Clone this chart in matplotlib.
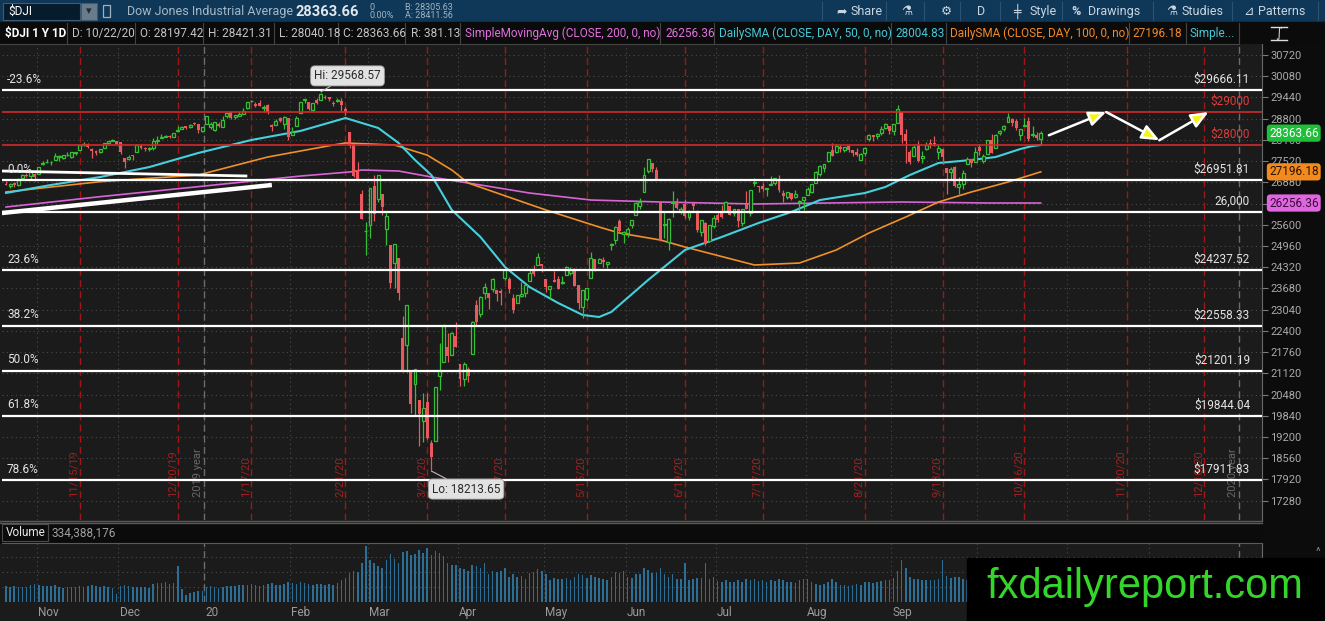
import numpy as np
import matplotlib
matplotlib.use('Agg')
import matplotlib.pyplot as plt
from matplotlib.patches import Rectangle, FancyArrowPatch

plt.rcParams['font.family'] = ['Roboto', 'DejaVu Sans']

# ---------------- data ----------------
# daily candles, 10/22/19 .. 10/22/20, one row per month
opens = [
    26827, 26760, 26860, 26790, 27000, 27090, 27080, 27130,
    27130, 27440, 27480, 27480, 27560, 27630, 27610, 27690, 27640, 27760, 27850, 28000, 28050, 27900, 27830, 27800, 27930, 28080, 28140, 28120,
    28110, 27620, 27570, 27700, 27810, 27990, 27890, 27880, 27920, 28130, 28230, 28260, 28290, 28260, 28440, 28500, 28570, 28540, 28670, 28650, 28420,
    28640, 28560, 28470, 28640, 28560, 28870, 29000, 28860, 28890, 28950, 29110, 29320, 29250, 29270, 29130, 29200, 28600, 28600, 28820, 28640, 28810,
    28320, 28570, 28980, 29350, 29290, 29060, 29350, 29360, 29450, 29440, 29280, 29330, 29330, 29100, 28400, 28030, 27240, 26530, 25400,
    25590, 26760, 26380, 26520, 25460, 24990, 24450, 24600, 22180, 21970, 21230, 20800, 20330, 19690, 20250, 19030, 19080, 21050, 21470, 21900, 21680, 22250,
    21400, 20950, 21250, 21700, 23170, 22900, 23550, 23550, 23650, 23640, 23590, 24000, 23950, 23400, 23250, 23460, 23550, 23910, 24210, 24380, 24430,
    23980, 23660, 23940, 23970, 23830, 24080, 24140, 24240, 23770, 23120, 23350, 24000, 24560, 24450, 24530, 24410, 24990, 25130, 25700, 25330,
    25340, 25580, 25880, 26170, 26600, 27230, 27450, 27250, 26280, 25600, 25080, 26270, 26310, 26010, 26240, 25840, 26260, 26020, 25380, 25650, 25120, 25550,
    25880, 25960, 26030, 26170, 25960, 26070, 25660, 26240, 25960, 26870, 26760, 26780, 26670, 26810, 26850, 26970, 26560, 26450, 26560, 26430, 26300, 26350,
    26510, 26600, 26870, 27140, 27320, 27530, 27860, 27780, 27940, 27850, 27990, 27850, 27790, 27550, 27770, 28200, 28310, 28290, 28380, 28510, 28570,
    28440, 28680, 29000, 28330, 27780, 27660, 28000, 27600, 27900, 28070, 28050, 27780, 27890, 27310, 27190, 27330, 26730, 26830, 27420, 27580, 27500,
    27940, 27530, 27740, 28150, 27930, 28360, 28480, 28690, 28800, 28720, 28310, 28580, 28740, 28300, 28300, 28197,
]
highs = [
    26910, 26850, 26880, 27000, 27130, 27170, 27200, 27150,
    27350, 27515, 27570, 27520, 27775, 27690, 27700, 27790, 27800, 27800, 28010, 28090, 28070, 27930, 27870, 27890, 28070, 28130, 28175, 28120,
    28110, 27620, 27690, 27710, 28030, 28050, 27950, 27950, 28220, 28290, 28340, 28320, 28320, 28380, 28580, 28590, 28580, 28630, 28710, 28650, 28550,
    28870, 28710, 28710, 28690, 28870, 28960, 29010, 28910, 29010, 29130, 29300, 29375, 29300, 29370, 29200, 29230, 28650, 28790, 28860, 28880, 28820,
    28560, 28870, 29300, 29380, 29290, 29280, 29410, 29569, 29510, 29460, 29320, 29410, 29410, 29150, 28400, 28050, 27480, 26650, 25680,
    26710, 27100, 27100, 26520, 25990, 24990, 25020, 24600, 22840, 23190, 21230, 21240, 20330, 20540, 20530, 19120, 20720, 22020, 22600, 22330, 22380, 22680,
    21400, 21450, 21300, 22690, 23330, 23450, 23840, 23550, 23990, 23640, 23670, 24270, 24020, 23500, 23480, 23880, 23790, 24250, 24390, 24760, 24430,
    23980, 23750, 24200, 24050, 24060, 24360, 24330, 24300, 23790, 23630, 23690, 24770, 24570, 24610, 24630, 24480, 25050, 25550, 25760, 25420,
    25540, 25740, 26290, 26400, 27340, 27580, 27450, 27350, 26280, 26000, 25810, 26610, 26400, 26150, 26380, 26050, 26280, 26040, 25750, 25670, 25600, 25910,
    25990, 26200, 26330, 26170, 26090, 26080, 26090, 26630, 26650, 27000, 26770, 26850, 26710, 27060, 27020, 27090, 26650, 26590, 26570, 26650, 26350, 26440,
    26740, 26830, 27230, 27390, 27440, 27810, 28060, 28030, 28000, 27930, 28000, 27870, 27920, 27770, 27960, 28330, 28320, 28370, 28580, 28660, 28590,
    28650, 29200, 29000, 28490, 27850, 28010, 28140, 27820, 28100, 28200, 28290, 28020, 27900, 27310, 27330, 27380, 27030, 27250, 27640, 27580, 27950,
    28040, 27740, 28160, 28350, 28330, 28450, 28600, 28960, 28820, 28800, 28500, 28830, 28860, 28570, 28390, 28421,
]
lows = [
    26787, 26720, 26740, 26770, 26990, 27040, 26990, 26920,
    27120, 27410, 27450, 27390, 27550, 27530, 27580, 27660, 27620, 27700, 27850, 27970, 27910, 27620, 27700, 27760, 27930, 28030, 28120, 28030,
    27730, 27325, 27550, 27560, 27810, 27900, 27820, 27830, 27860, 28030, 28220, 28240, 28230, 28250, 28410, 28500, 28500, 28530, 28620, 28380, 28400,
    28630, 28500, 28420, 28560, 28560, 28830, 28800, 28780, 28880, 28940, 29100, 29300, 29150, 29180, 28990, 28930, 28440, 28600, 28700, 28500, 28170,
    28320, 28570, 28980, 29260, 29060, 29040, 29230, 29360, 29380, 29320, 29180, 29300, 29030, 28920, 27920, 27040, 26950, 25760, 24680,
    25200, 25710, 26290, 25900, 24990, 23700, 23690, 23330, 21150, 21150, 19930, 19830, 18920, 19050, 19140, 18214, 19080, 20620, 21470, 21450, 21680, 21900,
    20740, 20730, 20860, 21690, 22570, 22810, 23360, 23050, 23560, 23300, 23170, 23930, 23540, 22940, 23240, 23430, 23420, 23910, 24070, 24380, 24180,
    23580, 23360, 23860, 23650, 23810, 24080, 24100, 23760, 23050, 22790, 23300, 24000, 24200, 24440, 24340, 24290, 24850, 25030, 25350, 25060,
    25240, 25510, 25880, 26070, 26600, 27150, 27180, 26980, 25120, 25200, 24840, 25820, 26090, 25920, 25810, 25740, 26050, 25370, 25270, 24990, 25080, 25490,
    25680, 25790, 26030, 25880, 25850, 25540, 25570, 26070, 25870, 26760, 26600, 26610, 26470, 26810, 26790, 26600, 26280, 26380, 26360, 26400, 26010, 26050,
    26500, 26550, 26870, 27080, 27190, 27500, 27660, 27760, 27810, 27790, 27780, 27660, 27670, 27550, 27680, 28140, 28130, 28190, 28320, 28490, 28330,
    28300, 28670, 28070, 27460, 27430, 27660, 27480, 27450, 27860, 27920, 27990, 27590, 27430, 26540, 26960, 26740, 26540, 26670, 27420, 27340, 27500,
    27690, 27450, 27740, 27750, 27930, 28320, 28430, 28690, 28580, 28460, 28170, 28570, 28130, 28250, 28170, 28040,
]
closes = [
    26788, 26834, 26806, 26958, 27091, 27071, 27186, 27046,
    27347, 27462, 27492, 27492, 27675, 27681, 27691, 27691, 27784, 27782, 28005, 28036, 27934, 27821, 27766, 27876, 28066, 28121, 28164, 28051,
    27783, 27503, 27650, 27678, 28015, 27909, 27881, 27911, 28132, 28135, 28235, 28268, 28240, 28377, 28455, 28551, 28516, 28621, 28645, 28462, 28538,
    28868, 28634, 28703, 28584, 28745, 28957, 28824, 28908, 28940, 29030, 29298, 29348, 29196, 29186, 29160, 28990, 28535, 28723, 28734, 28859, 28256,
    28400, 28807, 29291, 29380, 29103, 29276, 29277, 29551, 29423, 29398, 29232, 29348, 29219, 28992, 27961, 27081, 26957, 25767, 25409,
    26703, 25917, 27091, 26122, 25865, 23851, 25018, 23553, 21200, 23186, 20189, 21237, 19899, 20087, 19174, 18592, 20704, 21200, 22552, 21637, 22327, 21917,
    20944, 21413, 21053, 22680, 22654, 23434, 23719, 23390, 23950, 23505, 23538, 24242, 23650, 23019, 23476, 23516, 23775, 24134, 24102, 24634, 24346,
    23724, 23750, 23883, 23664, 23876, 24331, 24222, 23764, 23248, 23625, 23685, 24597, 24207, 24576, 24474, 24465, 24995, 25548, 25401, 25383,
    25475, 25742, 26270, 26282, 27111, 27572, 27272, 26990, 25128, 25606, 25763, 26290, 26120, 26080, 25871, 26025, 26156, 25445, 25746, 25016, 25596, 25813,
    25735, 25827, 26287, 25891, 26067, 25706, 26075, 26086, 26643, 26870, 26735, 26672, 26681, 26841, 27006, 26653, 26470, 26585, 26379, 26540, 26314, 26428,
    26665, 26828, 27202, 27387, 27433, 27791, 27687, 27977, 27897, 27931, 27845, 27778, 27693, 27740, 27930, 28308, 28249, 28332, 28493, 28654, 28430,
    28646, 29100, 28293, 28133, 27501, 27940, 27535, 27666, 27993, 27996, 28032, 27902, 27657, 27148, 27288, 26763, 26815, 27174, 27584, 27452, 27782,
    27817, 27683, 28149, 27773, 28303, 28426, 28587, 28838, 28680, 28515, 28495, 28606, 28195, 28309, 28211, 28364,
]
volume_m = [
    270, 250, 260, 245, 250, 255, 280, 300,
    290, 265, 270, 260, 275, 250, 240, 255, 245, 250, 270, 255, 260, 280, 260, 255, 265, 250, 230, 130,
    270, 290, 265, 245, 245, 250, 255, 235, 300, 310, 310, 330, 300, 320, 600, 220, 110, 155, 165, 190, 180,
    245, 260, 250, 240, 255, 260, 270, 260, 275, 285, 290, 300, 290, 270, 275, 300, 310, 280, 285, 300, 340,
    320, 300, 330, 310, 300, 290, 300, 295, 280, 300, 290, 310, 360, 400, 480, 520, 500, 650, 930,
    700, 650, 600, 560, 700, 800, 720, 650, 830, 850, 780, 800, 860, 820, 890, 780, 840, 820, 760, 640, 610, 620,
    560, 540, 520, 620, 600, 560, 640, 470, 510, 500, 520, 560, 420, 470, 420, 430, 380, 480, 500, 540, 520,
    460, 370, 400, 390, 390, 400, 360, 410, 470, 450, 400, 450, 420, 400, 380, 360, 420, 500, 480, 520,
    420, 400, 460, 470, 560, 530, 490, 480, 560, 460, 420, 470, 380, 390, 650, 370, 380, 400, 400, 640, 380, 420,
    350, 330, 360, 340, 330, 360, 330, 390, 360, 380, 350, 360, 340, 360, 350, 380, 360, 330, 340, 310, 360, 390,
    380, 330, 300, 290, 300, 340, 380, 330, 290, 280, 270, 280, 300, 290, 330, 330, 320, 340, 350, 370, 360,
    400, 520, 690, 560, 420, 390, 380, 360, 370, 360, 360, 380, 700, 440, 400, 420, 410, 390, 360, 340, 400,
    370, 360, 330, 370, 340, 330, 310, 330, 350, 340, 370, 400, 340, 330, 330, 334,
]

# moving averages read at sample days (trading-day index)
sma50_day = [0, 11, 23, 35, 47, 60, 72, 83, 91, 96, 100, 104, 109, 116, 122, 128, 135, 141, 145, 148,
             157, 160, 166, 175, 184, 192, 199, 210, 215, 221, 228, 236, 242, 248, 251, 253]
sma50 = [26560, 26800, 27040, 27340, 27765, 28157, 28430, 28820, 28520, 28066, 27554, 27100, 26046, 25232,
         24327, 23724, 23241, 22880, 22819, 22970, 23935, 24236, 24840, 25232, 25654, 25985, 26347, 26558,
         26740, 27101, 27463, 27554, 27644, 27885, 27976, 28005]
sma100_day = [0, 23, 47, 64, 80, 83, 95, 103, 109, 113, 132, 145, 150, 160, 166, 183, 194, 203, 211, 220,
              228, 236, 245, 253]
sma100 = [26590, 26900, 27101, 27644, 28006, 28066, 28006, 27700, 27252, 26860, 26046, 25533, 25352, 25141,
          24930, 24387, 24447, 24840, 25352, 25835, 26287, 26588, 26890, 27196]
sma200_day = [0, 23, 47, 72, 84, 87, 96, 104, 116, 128, 143, 160, 183, 219, 240, 253]
sma200 = [26136, 26448, 26750, 27070, 27192, 27252, 27222, 27040, 26800, 26558, 26347, 26287, 26227, 26287,
          26257, 26256]

fib_labels = ['-23.6%', '0.0%', '23.6%', '38.2%', '50.0%', '61.8%', '78.6%']
fib_prices = [29666.11, 26951.81, 24237.52, 22558.33, 21201.19, 19844.04, 17911.83]
red_levels = [29000, 28000]
white_level = 26000

trend_a_day, trend_a = [-1, 59], [27222, 27071]
trend_b_day, trend_b = [-1, 65], [25955, 26800]
path_day = [255, 269, 282, 294]
path_price = [28300, 29000, 28150, 29000]

month_names = ['Nov', 'Dec', '20', 'Feb', 'Mar', 'Apr', 'May', 'Jun', 'Jul', 'Aug', 'Sep', 'Oct', 'Nov', 'Dec']
month_start = [8, 28, 49, 70, 89, 111, 132, 152, 174, 196, 217, 238, 260, 280]
exp_labels = ['11/15/19', '12/20/19', '1/17/20', '2/21/20', '3/20/20', '4/17/20', '5/15/20', '6/19/20',
              '7/17/20', '8/21/20', '9/18/20', '10/16/20', '11/20/20', '12/18/20']
exp_day = [18, 42, 60, 83, 103, 122, 142, 166, 185, 210, 229, 249, 274, 293]
year_labels = ['2019 year', '2020 year']
year_day = [48.5, 301.5]
price_ticks = list(range(17280, 30721, 640))
hidden_tick = 26240  # sits under the SMA200 badge

hi_day, hi_price = 77, 29568.57
lo_day, lo_price = 104, 18213.65
last_close, sma50_last, sma100_last, sma200_last = 28363.66, 28004.83, 27196.18, 26256.36

# ---------------- layout ----------------
W, H = 1325, 621
BG = '#1b1b1b'
GREEN = '#35bf35'
RED = '#e8585c'
fig = plt.figure(figsize=(W / 100, H / 100), dpi=100, facecolor=BG)


def box(x0, y0, x1, y1):
    return [x0 / W, 1 - y1 / H, (x1 - x0) / W, (y1 - y0) / H]


def rect(x0, y0, x1, y1, **kw):
    fig.patches.append(Rectangle((x0 / W, 1 - y1 / H), (x1 - x0) / W, (y1 - y0) / H,
                                 transform=fig.transFigure, **kw))


def ftext(x, y, s, **kw):
    fig.text(x / W, 1 - y / H, s, **kw)


XL = (-0.98, 307.1)
YL = (16697, 31052)

# right axis column and header strips
rect(1262, 22, W, H, color='#0c0c0c', zorder=-1)
rect(0, 0, W, 22, color='#0f3757', zorder=-1)
rect(0, 22, W, 44, color='#0b0b0b', zorder=-1)
rect(0, 523, 1262, 543, color='#0b0b0b', zorder=-1)

# ---------------- price panel ----------------
ax = fig.add_axes(box(2, 44, 1262, 520))
ax.set_facecolor(BG)
ax.set_xlim(*XL)
ax.set_ylim(*YL)
for s in ['top', 'left', 'bottom']:
    ax.spines[s].set_visible(False)
ax.spines['right'].set_color('#6a6a6a')
ax.yaxis.tick_right()
ax.set_yticks(price_ticks)
ax.set_yticklabels(['' if t == hidden_tick else str(t) for t in price_ticks])
ax.tick_params(axis='y', colors='#7a7a7a', labelcolor='#a9a9a9', labelsize=8, length=4, pad=2)
ax.set_xticks([])
ax.grid(True, axis='y', color='#4a4a4a', linestyle=(0, (1, 3)), lw=0.8)

grid_x = [m - 0.5 for m in month_start]
ax.vlines(grid_x, *YL, colors='#4a4a4a', linestyles=(0, (1, 3)), lw=0.8, zorder=1)
ax.vlines(exp_day, *YL, colors='#a01616', linestyles=(0, (5, 3)), lw=1.0, zorder=1.5)
ax.vlines(year_day, *YL, colors='#6c6c6c', linestyles=(0, (5, 3)), lw=1.0, zorder=1.5)
for d, lbl in zip(exp_day, exp_labels):
    ax.text(d - 1.4, 17380, lbl, rotation=90, color='#a02020', fontsize=8, ha='center', va='bottom', zorder=1.6)
for d, lbl in zip(year_day, year_labels):
    ax.text(d - 1.6, 17380, lbl, rotation=90, color='#686868', fontsize=8, ha='center', va='bottom', zorder=1.6)

# moving averages
ax.plot(sma200_day, sma200, color='#d865d8', lw=1.2, zorder=2)
ax.plot(sma100_day, sma100, color='#f0902a', lw=1.2, zorder=2)
ax.plot(sma50_day, sma50, color='#45d0dc', lw=1.5, zorder=2)

# candles
o, h, l, c = (np.array(v, dtype=float) for v in (opens, highs, lows, closes))
n = min(len(o), len(h), len(l), len(c))
o, h, l, c = o[:n], h[:n], l[:n], c[:n]
x = np.arange(n)
up = c >= o
ax.vlines(x[up], l[up], h[up], color=GREEN, lw=0.9, zorder=3)
ax.vlines(x[~up], l[~up], h[~up], color=RED, lw=0.9, zorder=3)
body_lo = np.minimum(o, c)
body_h = np.maximum(np.abs(c - o), 25)
ax.bar(x[up], body_h[up], bottom=body_lo[up], width=0.72, facecolor=BG, edgecolor=GREEN, lw=0.9, zorder=4)
ax.bar(x[~up], body_h[~up], bottom=body_lo[~up], width=0.72, color=RED, lw=0, zorder=4)

# drawings: fib levels, price levels, trend lines
for lbl, p in zip(fib_labels, fib_prices):
    ax.axhline(p, color='white', lw=1.6, zorder=6)
    ax.annotate(lbl, xy=(5 / 1260, p), xycoords=('axes fraction', 'data'), xytext=(0, 3),
                textcoords='offset points', ha='left', va='bottom', color='#e4e4e4', fontsize=8.5, zorder=7)
    ax.annotate('$%.2f' % p, xy=(1248 / 1260, p), xycoords=('axes fraction', 'data'), xytext=(0, 3),
                textcoords='offset points', ha='right', va='bottom', color='#e4e4e4', fontsize=8.5, zorder=7)
ax.axhline(white_level, color='white', lw=1.6, zorder=6)
ax.annotate('26,000', xy=(1248 / 1260, white_level), xycoords=('axes fraction', 'data'), xytext=(0, 3),
            textcoords='offset points', ha='right', va='bottom', color='#e4e4e4', fontsize=8.5, zorder=7)
for p in red_levels:
    ax.axhline(p, color='#d42a2a', lw=1.2, zorder=6)
    ax.annotate('$%d' % p, xy=(1248 / 1260, p), xycoords=('axes fraction', 'data'), xytext=(0, 3),
                textcoords='offset points', ha='right', va='bottom', color='#e03a3a', fontsize=8.5, zorder=7)
ax.plot(trend_a_day, trend_a, color='white', lw=2.0, solid_capstyle='butt', zorder=6)
ax.plot(trend_b_day, trend_b, color='white', lw=3.2, solid_capstyle='butt', zorder=6)
for i in range(len(path_day) - 1):
    ax.add_patch(FancyArrowPatch((path_day[i], path_price[i]), (path_day[i + 1], path_price[i + 1]),
                                 arrowstyle='-|>,head_length=0.75,head_width=0.32', mutation_scale=14,
                                 ec='white', fc='#f4f41c', lw=1.8, shrinkA=0, shrinkB=0, zorder=7))

# hi / lo bubbles
bub = dict(boxstyle='round,pad=0.3,rounding_size=0.35', fc='#e2e2e2', ec='#a0a0a0', lw=0.6)
ax.annotate('Hi: %.2f' % hi_price, xy=(hi_day, hi_price + 40), xytext=(83.5, 30090), ha='center', va='center',
            fontsize=8.5, color='#2a2a2a', bbox=bub, zorder=8,
            arrowprops=dict(arrowstyle='-', color='#bdbdbd', lw=0.8, shrinkA=0, shrinkB=0))
ax.annotate('Lo: %.2f' % lo_price, xy=(lo_day, lo_price - 40), xytext=(112.5, 17630), ha='center', va='center',
            fontsize=8.5, color='#2a2a2a', bbox=bub, zorder=8,
            arrowprops=dict(arrowstyle='-', color='#bdbdbd', lw=0.8, shrinkA=0, shrinkB=0))

# price badges on the right axis
for val, fc, tc in [(last_close, '#1fbf3a', 'white'), (sma100_last, '#f28a1e', '#2a1200'),
                    (sma200_last, '#e066e0', '#3a0a3a')]:
    ax.annotate('%.2f' % val, xy=(1.0, val), xycoords=('axes fraction', 'data'), xytext=(5, 0),
                textcoords='offset points', ha='left', va='center', fontsize=8.5, color=tc,
                bbox=dict(boxstyle='round,pad=0.18,rounding_size=0.3', fc=fc, ec='none'),
                annotation_clip=False, zorder=9)

# ---------------- volume panel ----------------
vax = fig.add_axes(box(2, 543, 1262, 602))
vax.set_facecolor(BG)
vax.set_xlim(*XL)
vax.set_ylim(0, 980)
vax.set_xticks([])
vax.set_yticks([])
for s in ['left', 'bottom']:
    vax.spines[s].set_visible(False)
vax.spines['top'].set_color('#5a5a5a')
vax.spines['right'].set_color('#6a6a6a')
vol = np.array(volume_m[:n], dtype=float)
vax.hlines([250, 500, 750], *XL, colors='#4a4a4a', linestyles=(0, (1, 3)), lw=0.8, zorder=1)
vax.vlines(grid_x, 0, 980, colors='#4a4a4a', linestyles=(0, (1, 3)), lw=0.8, zorder=1)
vax.vlines(year_day, 0, 980, colors='#6c6c6c', linestyles=(0, (5, 3)), lw=1.0, zorder=1)
vax.bar(np.arange(len(vol)), vol, width=0.38, color='#2c6f96', lw=0, zorder=2)
for m, name in zip(month_start, month_names):
    vax.text(m - 0.2, -0.17, name, transform=vax.get_xaxis_transform(), ha='left', va='center',
             color='#9c9c9c', fontsize=8.5)

# panel separators
fig.add_artist(plt.Line2D([0, 1262 / W], [1 - 520.5 / H] * 2, color='#5a5a5a', lw=1))
fig.add_artist(plt.Line2D([0, 1262 / W], [1 - 523 / H] * 2, color='#5a5a5a', lw=1))
rect(2, 524, 48, 541, fc='none', ec='#4a4a4a', lw=0.8)
ftext(6, 533, 'Volume', color='#e6e6e6', fontsize=8.5, va='center')
ftext(52, 533, '334,388,176', color='#a0a0a0', fontsize=8.5, va='center')
fig.add_artist(plt.Line2D([48 / W] * 2, [1 - 524 / H, 1 - 541 / H], color='#4a4a4a', lw=0.8))

# ---------------- header row 2 (study legend) ----------------
legend_items = [
    ('$DJI 1 Y 1D', '#ffffff', 5, 'bold'),
    ('D: 10/22/20', '#c4c4c4', 72, 'normal'),
    ('O: 28197.42', '#c4c4c4', 140, 'normal'),
    ('H: 28421.31', '#c4c4c4', 208, 'normal'),
    ('L: 28040.18', '#c4c4c4', 279, 'normal'),
    ('C: 28363.66', '#c4c4c4', 343, 'normal'),
    ('R: 381.13', '#c4c4c4', 411, 'normal'),
    ('SimpleMovingAvg (CLOSE, 200, 0, no)', '#e070e0', 465, 'normal'),
    ('26256.36', '#e070e0', 665, 'normal'),
    ('DailySMA (CLOSE, DAY, 50, 0, no)', '#45c8d8', 719, 'normal'),
    ('28004.83', '#45c8d8', 895, 'normal'),
    ('DailySMA (CLOSE, DAY, 100, 0, no)', '#f08a2a', 950, 'normal'),
    ('27196.18', '#f08a2a', 1132, 'normal'),
    ('Simple...', '#45c8d8', 1189, 'normal'),
]
for txt, col, xp, wt in legend_items:
    ftext(xp, 33.5, txt, color=col, fontsize=8.5, fontweight=wt, va='center')
for sx in [67, 135, 203, 274, 338, 405, 460, 660, 714, 891, 946, 1129, 1186, 1239]:
    fig.add_artist(plt.Line2D([sx / W] * 2, [1 - 23 / H, 1 - 43 / H], color='#444444', lw=0.8))
fig.add_artist(plt.Line2D([0, 1239 / W], [1 - 43.5 / H] * 2, color='#444444', lw=0.8))
fig.add_artist(plt.Line2D([1271 / W, 1287 / W], [1 - 27 / H] * 2, color='#dddddd', lw=1))
fig.add_artist(plt.Line2D([1271 / W, 1287 / W], [1 - 40 / H] * 2, color='#dddddd', lw=1))
ftext(1279, 33.5, '∫', color='#dddddd', fontsize=9, ha='center', va='center', family='DejaVu Sans')

# ---------------- toolbar ----------------
rect(3, 3, 80, 20, fc='#061b2b', ec='#3d5b73', lw=0.8)
ftext(8, 11.5, '$DJI', color='white', fontsize=8.5, va='center')
rect(81, 3, 97, 20, fc='#6a7c8b', ec='#3d5b73', lw=0.8)
ftext(89, 11.5, '▾', color='#1d2b36', fontsize=8, ha='center', va='center', family='DejaVu Sans')
rect(103, 5, 110, 17, fc='none', ec='#9fb1c0', lw=0.9)
ftext(127, 11.5, 'Dow Jones Industrial Average', color='#a6b9c8', fontsize=9, va='center')
ftext(295, 11.5, '28363.66', color='#dfe8ef', fontsize=10.5, fontweight='bold', va='center')
ftext(369, 7, '0', color='#9fb4c4', fontsize=6.5, va='center')
ftext(369, 16, '0.00%', color='#9fb4c4', fontsize=6.5, va='center')
ftext(405, 7, 'B: 28305.63', color='#9fb4c4', fontsize=6.5, va='center')
ftext(405, 16, 'A: 28411.56', color='#9fb4c4', fontsize=6.5, va='center')
tool_items = [('➦', 836), ('Share', 851), ('⚗', 901), ('⚙', 941), ('D', 977), ('╪', 1013), ('Style', 1029),
              ('%', 1071), ('Drawings', 1088), ('⚗', 1166), ('Studies', 1182), ('⊿', 1243), ('Patterns', 1258)]
for txt, xp in tool_items:
    ftext(xp, 11.5, txt, color='#c8d6e2', fontsize=9, va='center', fontweight='bold' if txt == '%' else 'normal')
for sx in [822, 886, 924, 960, 1000, 1062, 1153, 1232, 1318]:
    fig.add_artist(plt.Line2D([sx / W] * 2, [1 - 2 / H, 1 - 20 / H], color='#2b5273', lw=0.8))

# collapse icon at the right of the volume panel
ftext(1318, 552, '^', color='#8a8a8a', fontsize=8, ha='center', va='center')

# ---------------- watermark ----------------
rect(967, 558, W, H, color='black', zorder=20)
ftext(1145, 587, 'fxdailyreport.com', color='#35d62a', fontsize=30, ha='center', va='center',
      family='Liberation Sans', zorder=21)

fig.savefig('out.png', dpi=100, facecolor=fig.get_facecolor())
